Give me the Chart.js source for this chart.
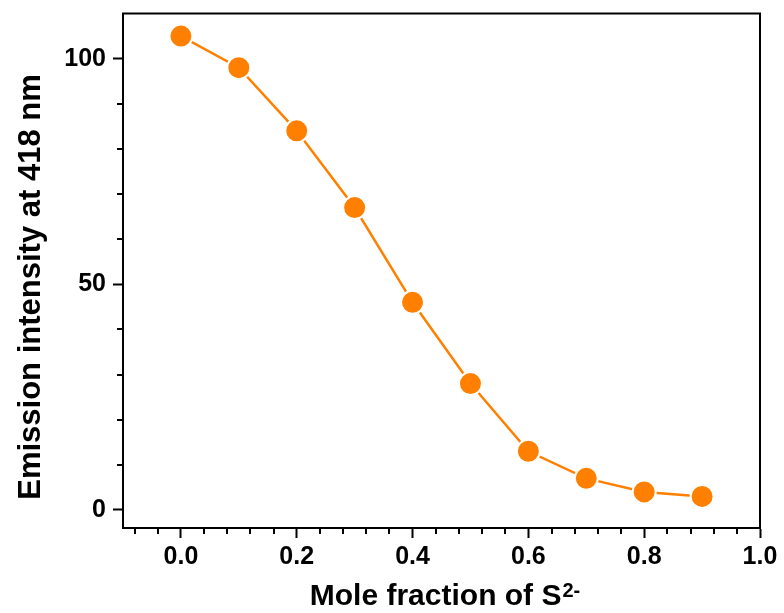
<!DOCTYPE html>
<html>
<head>
<meta charset="utf-8">
<script src="https://cdn.jsdelivr.net/npm/chart.js@4/dist/chart.umd.min.js"></script>
<style>
  html, body { margin: 0; padding: 0; background: #fff; }
  #wrap { width: 784px; height: 613px; }
</style>
</head>
<body>
<div id="wrap"><canvas id="chart" width="784" height="613"></canvas></div>
<script>
// donnees
const moleFraction = [0.0, 0.1, 0.2, 0.3, 0.4, 0.5, 0.6, 0.7, 0.8, 0.9];
const emission = [105, 98, 84, 67, 46, 28, 13, 7, 4, 3];
const xLabels = [0.0, 0.2, 0.4, 0.6, 0.8, 1.0];
const yLabels = [0, 50, 100];
const xMinorStep = 0.04;
const yMinorStep = 10;

const ORANGE = '#ff8000';
const FONT = '"Liberation Sans", Arial, sans-serif';

function inList(v, list) {
    return list.some(l => Math.abs(l - v) < 1e-6);
}
function buildTicks(from, to, step) {
    const out = [];
    for (let v = from; v <= to + 1e-9; v += step) out.push({ value: Math.round(v * 100) / 100 });
    return out;
}

// cadre, petites graduations et titres des axes
const framePlugin = {
    id: 'frame',
    afterDraw(chart) {
        const ctx = chart.ctx;
        const a = chart.chartArea;
        const xs = chart.scales.x;
        const ys = chart.scales.y;
        ctx.save();
        ctx.strokeStyle = '#000';
        ctx.lineWidth = 2;
        ctx.beginPath();
        ctx.moveTo(a.left - 1, a.top);
        ctx.lineTo(a.right, a.top);
        ctx.lineTo(a.right, a.bottom + 1);
        ctx.stroke();

        // graduations mineures
        ctx.beginPath();
        buildTicks(-0.08, 1.0, xMinorStep).forEach(t => {
            if (inList(t.value, xLabels)) return;
            const px = Math.round(xs.getPixelForValue(t.value));
            ctx.moveTo(px, a.bottom);
            ctx.lineTo(px, a.bottom + 6);
        });
        buildTicks(0, 100, yMinorStep).forEach(t => {
            if (inList(t.value, yLabels)) return;
            const py = Math.round(ys.getPixelForValue(t.value));
            ctx.moveTo(a.left, py);
            ctx.lineTo(a.left - 6, py);
        });
        ctx.stroke();

        // titre axe X avec exposant
        ctx.fillStyle = '#000';
        ctx.textBaseline = 'alphabetic';
        ctx.textAlign = 'left';
        ctx.font = 'bold 30px ' + FONT;
        const main = 'Mole fraction of S';
        const w1 = ctx.measureText(main).width;
        ctx.font = 'bold 20px ' + FONT;
        const w2 = ctx.measureText('2-').width;
        const x0 = (a.left + a.right) / 2 - (w1 + w2) / 2 + 3;
        ctx.font = 'bold 30px ' + FONT;
        ctx.fillText(main, x0, 605);
        ctx.font = 'bold 20px ' + FONT;
        ctx.fillText('2-', x0 + w1 + 1, 597);

        // titre axe Y
        ctx.translate(40, 287);
        ctx.rotate(-Math.PI / 2);
        ctx.textAlign = 'center';
        ctx.font = 'bold 31px ' + FONT;
        ctx.fillText('Emission intensity at 418 nm', 0, 0);
        ctx.restore();
    }
};

new Chart(document.getElementById('chart'), {
    type: 'scatter',
    data: {
        datasets: [{
            data: moleFraction.map((x, i) => ({ x: x, y: emission[i] })),
            showLine: true,
            borderColor: ORANGE,
            borderWidth: 2.5,
            backgroundColor: ORANGE,
            pointBackgroundColor: ORANGE,
            pointBorderColor: '#fff',
            pointBorderWidth: 2,
            pointRadius: 11.5,
            tension: 0,
            clip: false
        }]
    },
    options: {
        responsive: false,
        animation: false,
        layout: { padding: { top: 13, right: 24, left: 0, bottom: 0 } },
        plugins: { legend: { display: false }, tooltip: { enabled: false } },
        scales: {
            x: {
                type: 'linear',
                min: -0.1,
                max: 1.0,
                afterBuildTicks: s => { s.ticks = buildTicks(0, 1.0, 0.2); },
                afterFit: s => {
                    s.height = 85;
                    s.paddingLeft = 0; s.paddingRight = 0;
                },
                border: { display: true, color: '#000', width: 2 },
                grid: {
                    drawOnChartArea: false,
                    drawTicks: true,
                    tickLength: 10,
                    tickWidth: 2,
                    tickColor: '#000'
                },
                ticks: {
                    autoSkip: false,
                    maxRotation: 0,
                    padding: 4,
                    color: '#000',
                    font: { family: FONT, size: 25, weight: 'bold' },
                    callback: v => v.toFixed(1)
                }
            },
            y: {
                min: -4,
                max: 110,
                afterBuildTicks: s => { s.ticks = yLabels.map(v => ({ value: v })); },
                afterFit: s => {
                    s.width = 123;
                    s.paddingTop = 0; s.paddingBottom = 0;
                },
                border: { display: true, color: '#000', width: 2 },
                grid: {
                    drawOnChartArea: false,
                    drawTicks: true,
                    tickLength: 10,
                    tickWidth: 2,
                    tickColor: '#000'
                },
                ticks: {
                    autoSkip: false,
                    padding: 7,
                    color: '#000',
                    font: { family: FONT, size: 25, weight: 'bold' },
                    callback: v => String(v)
                }
            }
        }
    },
    plugins: [framePlugin]
});
</script>
</body>
</html>
